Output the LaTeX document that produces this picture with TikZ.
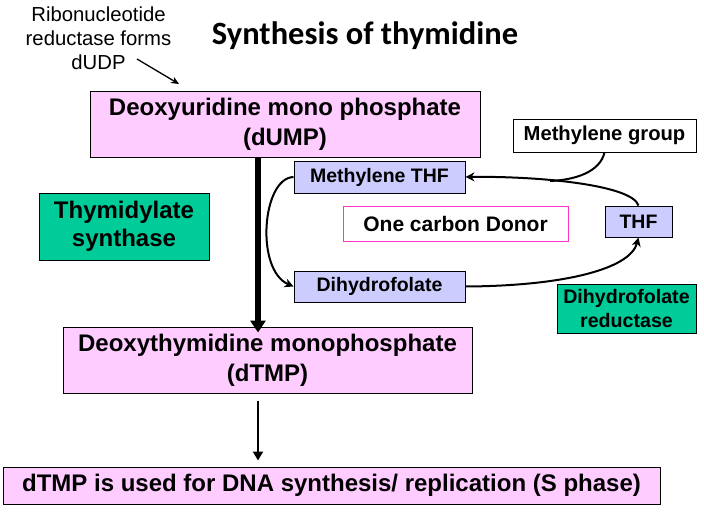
\documentclass[tikz,border=0pt]{standalone}
\usepackage{fontspec}
\setmainfont{Liberation Sans}
\newfontfamily\titlefont{Carlito}
\usetikzlibrary{arrows.meta}
\definecolor{pinkfill}{RGB}{255,204,255}
\definecolor{lavfill}{RGB}{204,204,255}
\definecolor{greenfill}{RGB}{0,204,153}
\definecolor{donorline}{RGB}{255,51,204}
\begin{document}
\begin{tikzpicture}[x=1pt, y=-1pt,
    box/.style={draw=black, line width=1pt, inner sep=0pt, align=center, font=\bfseries\fontsize{24}{30}\selectfont},
    pinkbox/.style={box, fill=pinkfill},
    lavbox/.style={box, fill=lavfill, font=\bfseries\fontsize{19.5}{22}\selectfont},
    greenbox/.style={box, fill=greenfill},
    link/.style={line width=2pt, -{Stealth[length=9pt,width=9pt]}},
    bigarrow/.style={line width=5.5pt, -{Triangle[length=12pt,width=15pt]}}]
        \useasboundingbox (0,0) rectangle (704,514);
        \node (title) at (365,36) {\titlefont\bfseries\fontsize{32.5}{36}\selectfont Synthesis of thymidine};
        \node[align=center, font=\fontsize{20.3}{24}\selectfont] (ribo) at (98.5,38) {Ribonucleotide\\reductase forms\\dUDP};
        \coordinate (ribostart) at (137,59);
        \coordinate (ribotip) at (179,84);
        \node[pinkbox, minimum width=390pt, minimum height=66pt] (dump) at (285,124) {Deoxyuridine mono phosphate\\(dUMP)};
        \node[box, fill=white, font=\bfseries\fontsize{20.2}{22}\selectfont, minimum width=183pt, minimum height=33pt] (mgroup) at (604.5,135.5) {Methylene group};
        \node[lavbox, minimum width=171pt, minimum height=32pt] (mthf) at (379.5,177) {Methylene THF};
        \node[box, draw=donorline, fill=white, font=\bfseries\fontsize{21}{23}\selectfont, minimum width=225pt, minimum height=35pt] (donor) at (455.5,223.5) {One carbon Donor};
        \node[lavbox, minimum width=67pt, minimum height=31pt] (thf) at (638.5,221.5) {THF};
        \node[lavbox, minimum width=171pt, minimum height=31pt] (dhf) at (379.5,286.5) {Dihydrofolate};
        \node[greenbox, font=\bfseries\fontsize{19.6}{23.5}\selectfont, minimum width=139pt, minimum height=49pt] (dhfr) at (626.5,308.5) {Dihydrofolate\\reductase};
        \node[greenbox, font=\bfseries\fontsize{24}{28}\selectfont, minimum width=170pt, minimum height=67pt] (ts) at (124,226.5) {Thymidylate\\synthase};
        \node[pinkbox, minimum width=409pt, minimum height=66pt] (dtmp) at (267.5,360) {Deoxythymidine monophosphate\\(dTMP)};
        \node[pinkbox, minimum width=657pt, minimum height=37pt] (final) at (331.5,485.5) {dTMP is used for DNA synthesis/ replication (S phase)};
        \coordinate (xline) at (258,0);
        \coordinate (join) at (550,181);
        % main pathway
        \draw[line width=1.3pt, -{Stealth[length=8pt,width=7pt]}] (ribostart) -- (ribotip);
        \draw[bigarrow] (dump.south -| xline) -- ([yshift=-6pt]dtmp.north -| xline);
        \draw[line width=2.5pt, -{Triangle[length=9pt,width=10pt]}, shorten <=7pt, shorten >=6pt] (dtmp.south -| xline) -- (final.north -| xline);
        % folate cycle
        \draw[link] (mthf.west) .. controls (262,178) and (255,270) .. (dhf.west);
        \draw[link] (dhf.east) .. controls (560,286) and (630,270) .. (thf.south);
        \draw[link] (thf.north) .. controls (632,185) and (540,176) .. (mthf.east);
        \draw[line width=2pt] (mgroup.south) .. controls (600,172) and (575,180) .. (join);
\end{tikzpicture}
\end{document}
